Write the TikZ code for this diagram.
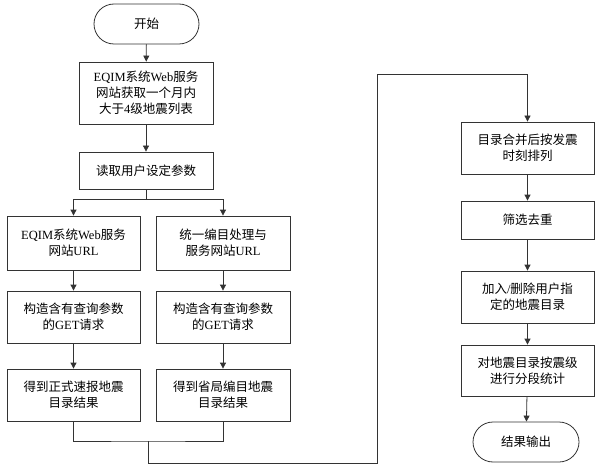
\documentclass[tikz,border=0pt]{standalone}
\usepackage{fontspec}
\setmainfont{Liberation Serif}
\newfontfamily\cjk{Noto Sans CJK SC}
\usetikzlibrary{arrows.meta,shapes.misc}
\begin{document}
\begin{tikzpicture}[x=1pt,y=-1pt,
  line/.style={draw=black!80,line width=0.8pt},
  arr/.style={line,-{Triangle[length=6pt,width=6pt]}},
  box/.style={draw=black!80,line width=0.8pt,align=center,font=\fontsize{12.5}{16}\selectfont,inner sep=2pt},
  term/.style={box,rounded rectangle,minimum width=109pt,minimum height=40pt}]
\useasboundingbox (0,0) rectangle (608,468);
\node[term] (start) at (146.5,24) {{\cjk 开始}};
\node[box,minimum width=134pt,minimum height=62pt] (b1) at (146,93) {EQIM{\cjk 系统}Web{\cjk 服务}\\{\cjk 网站获取一个月内}\\{\cjk 大于}4{\cjk 级地震列表}};
\node[box,minimum width=134pt,minimum height=37pt] (b2) at (146,170.5) {{\cjk 读取用户设定参数}};
\node[box,minimum width=133pt,minimum height=54pt] (l1) at (73.5,243) {EQIM{\cjk 系统}Web{\cjk 服务}\\{\cjk 网站}URL};
\node[box,minimum width=134pt,minimum height=54pt] (r1) at (223,243) {{\cjk 统一编目处理与}\\{\cjk 服务网站}URL};
\node[box,minimum width=133pt,minimum height=52pt] (l2) at (73.5,317) {{\cjk 构造含有查询参数}\\{\cjk 的}GET{\cjk 请求}};
\node[box,minimum width=134pt,minimum height=52pt] (r2) at (223,317) {{\cjk 构造含有查询参数}\\{\cjk 的}GET{\cjk 请求}};
\node[box,minimum width=133pt,minimum height=52pt] (l3) at (73.5,395) {{\cjk 得到正式速报地震}\\{\cjk 目录结果}};
\node[box,minimum width=134pt,minimum height=52pt] (r3) at (223,395) {{\cjk 得到省局编目地震}\\{\cjk 目录结果}};
\node[box,minimum width=133pt,minimum height=52pt] (R1) at (527.5,148) {{\cjk 目录合并后按发震}\\{\cjk 时刻排列}};
\node[box,minimum width=133pt,minimum height=38pt] (R2) at (527.5,220) {{\cjk 筛选去重}};
\node[box,minimum width=133pt,minimum height=52pt] (R3) at (527.5,297) {{\cjk 加入}/{\cjk 删除用户指}\\{\cjk 定的地震目录}};
\node[box,minimum width=133pt,minimum height=51pt] (R4) at (527.5,370.5) {{\cjk 对地震目录按震级}\\{\cjk 进行分段统计}};
\node[term,minimum width=110pt] (end) at (526,442) {{\cjk 结果输出}};
\draw[arr] (start) -- (b1);
\draw[arr] (b1) -- (b2);
\coordinate (s) at (146,199);
\draw[line] (b2.south) -- (s);
\draw[arr] (s) -| (l1.north);
\draw[arr] (s) -| (r1.north);
\draw[arr] (l1) -- (l2);
\draw[arr] (r1) -- (r2);
\draw[arr] (l2) -- (l3);
\draw[arr] (r2) -- (r3);
\coordinate (m) at (148,441);
\draw[line] (l3.south) |- (m) -| (r3.south);
\coordinate (c1) at (148,463);
\coordinate (c2) at (377,463);
\coordinate (c3) at (377,74);
\draw[arr] (m) -- (c1) -- (c2) -- (c3) -| (R1.north);
\draw[arr] (R1) -- (R2);
\draw[arr] (R2) -- (R3);
\draw[arr] (R3) -- (R4);
\draw[arr] (R4) -- (end);
\end{tikzpicture}
\end{document}
